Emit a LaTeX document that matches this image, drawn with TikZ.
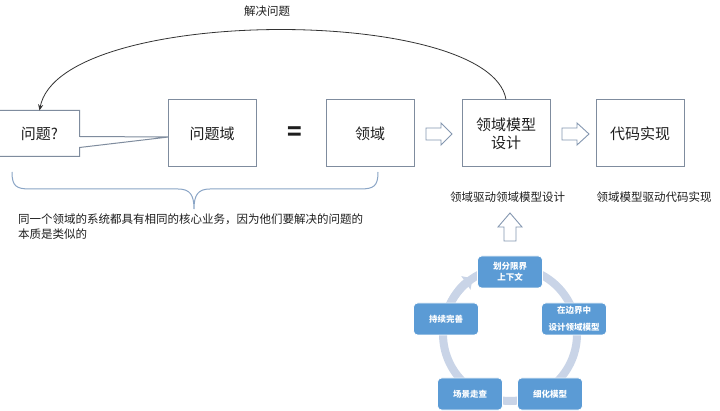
\documentclass[tikz,border=0pt]{standalone}
\usepackage{fontspec}
\setmainfont{Noto Sans CJK SC}
\usetikzlibrary{arrows.meta,calc}
\definecolor{boxline}{HTML}{7F8C9E}
\definecolor{txt}{HTML}{1E1E1E}
\definecolor{bracec}{HTML}{8AA5C6}
\definecolor{barrow}{HTML}{8497B0}
\definecolor{cyc}{HTML}{5B9BD5}
\definecolor{ringc}{HTML}{C9D4E7}
\definecolor{curvec}{HTML}{333333}
\tikzset{
  mainbox/.style={draw=boxline, line width=1pt, minimum width=88pt, minimum height=67pt, inner sep=0pt, align=center, font=\fontsize{15}{17}\selectfont, text=txt},
  lbl/.style={font=\fontsize{11.5}{14}\selectfont, text=txt, inner sep=0pt},
  cycbox/.style={fill=cyc, draw=white, line width=0.8pt, rounded corners=4pt, minimum width=65pt, minimum height=32pt, inner sep=0pt, align=center, text=white, font=\bfseries\fontsize{8.5}{11}\selectfont},
  blockarrow/.style={draw=barrow, fill=white, line width=0.9pt, line join=miter}
}
\begin{document}
\begin{tikzpicture}[x=1pt,y=-1pt]
\useasboundingbox (0,0) rectangle (720,411);
\fill[white] (0,0) rectangle (720,411);

% main boxes
\node[mainbox, draw=none, minimum width=79pt, minimum height=45pt] (q) at (39.5,133.5) {问题?};
\node[mainbox] (qd) at (212,133.5) {问题域};
\node[font=\bfseries\fontsize{24}{24}\selectfont, text=txt, inner sep=0pt] (eq) at (295,134) {=};
\node[mainbox] (dom) at (370,133.5) {领域};
\node[mainbox, font=\fontsize{15}{18}\selectfont] (ldm) at (506,133.5) {领域模型\\设计};
\node[mainbox] (code) at (640,133.5) {代码实现};

% callout shape of the question box
\draw[boxline, line width=1pt, line join=miter]
  (q.north west) -- (q.north east) -- ($(q.north east)+(0,26)$) -- ($(qd.west)+(1,3.5)$)
  -- ($(q.north east)+(0,37)$) -- (q.south east) -- (q.south west) -- cycle;

% block arrows
\draw[blockarrow] (426,128) -- (441,128) -- (441,123) -- (452,134) -- (441,145) -- (441,140) -- (426,140) -- cycle;
\draw[blockarrow] (562,128) -- (577,128) -- (577,123) -- (589,134) -- (577,145) -- (577,140) -- (562,140) -- cycle;

% curve
\node[lbl] (solve) at (267,11) {解决问题};
\draw[curvec, line width=0.8pt, -{Stealth[length=6pt,width=5pt]}]
  (ldm.north) .. controls (490,5) and (60,5) .. (q.north);

% brace
\coordinate (bl) at (12,172);
\coordinate (br) at (378,172);
\coordinate (bt) at (194,209);
\draw[bracec, line width=1pt]
  (bl) .. controls (12,186) and (16,189) .. (30,189) -- (178,189)
  .. controls (190,189) and (194,195) .. (bt)
  .. controls (194,195) and (198,189) .. (210,189) -- (360,189)
  .. controls (374,189) and (378,186) .. (br);
\node[lbl, anchor=north west, align=left, font=\fontsize{11.5}{15}\selectfont] (note) at (18,213.5)
  {同一个领域的系统都具有相同的核心业务，因为他们要解决的问题的\\本质是类似的};

% labels under boxes
\node[lbl] (l1) at (507.5,197) {领域驱动领域模型设计};
\node[lbl] (l2) at (654,197) {领域模型驱动代码实现};

% up arrow
\draw[blockarrow] (504,241) -- (504,227) -- (498,227) -- (510,213) -- (522,227) -- (516,227) -- (516,241) -- cycle;

% cycle
\begin{scope}[shift={(510,334)}, y=1pt]
  \coordinate (cc) at (0,0);
  \draw[ringc, line width=8pt] (cc) circle (67);
  \draw[ringc, line width=8pt, -{Triangle[length=8pt,width=16pt]}] (160:67) arc (160:124:67);
  \node[cycbox] (c1) at (0,62) {划分限界\\上下文};
  \node[cycbox, font=\bfseries\fontsize{8.5}{17}\selectfont] (c2) at (64,15) {在边界中\\设计领域模型};
  \node[cycbox] (c3) at (40,-60) {细化模型};
  \node[cycbox] (c4) at (-40,-60) {场景走查};
  \node[cycbox] (c5) at (-64,15) {持续完善};
\end{scope}
\end{tikzpicture}
\end{document}
